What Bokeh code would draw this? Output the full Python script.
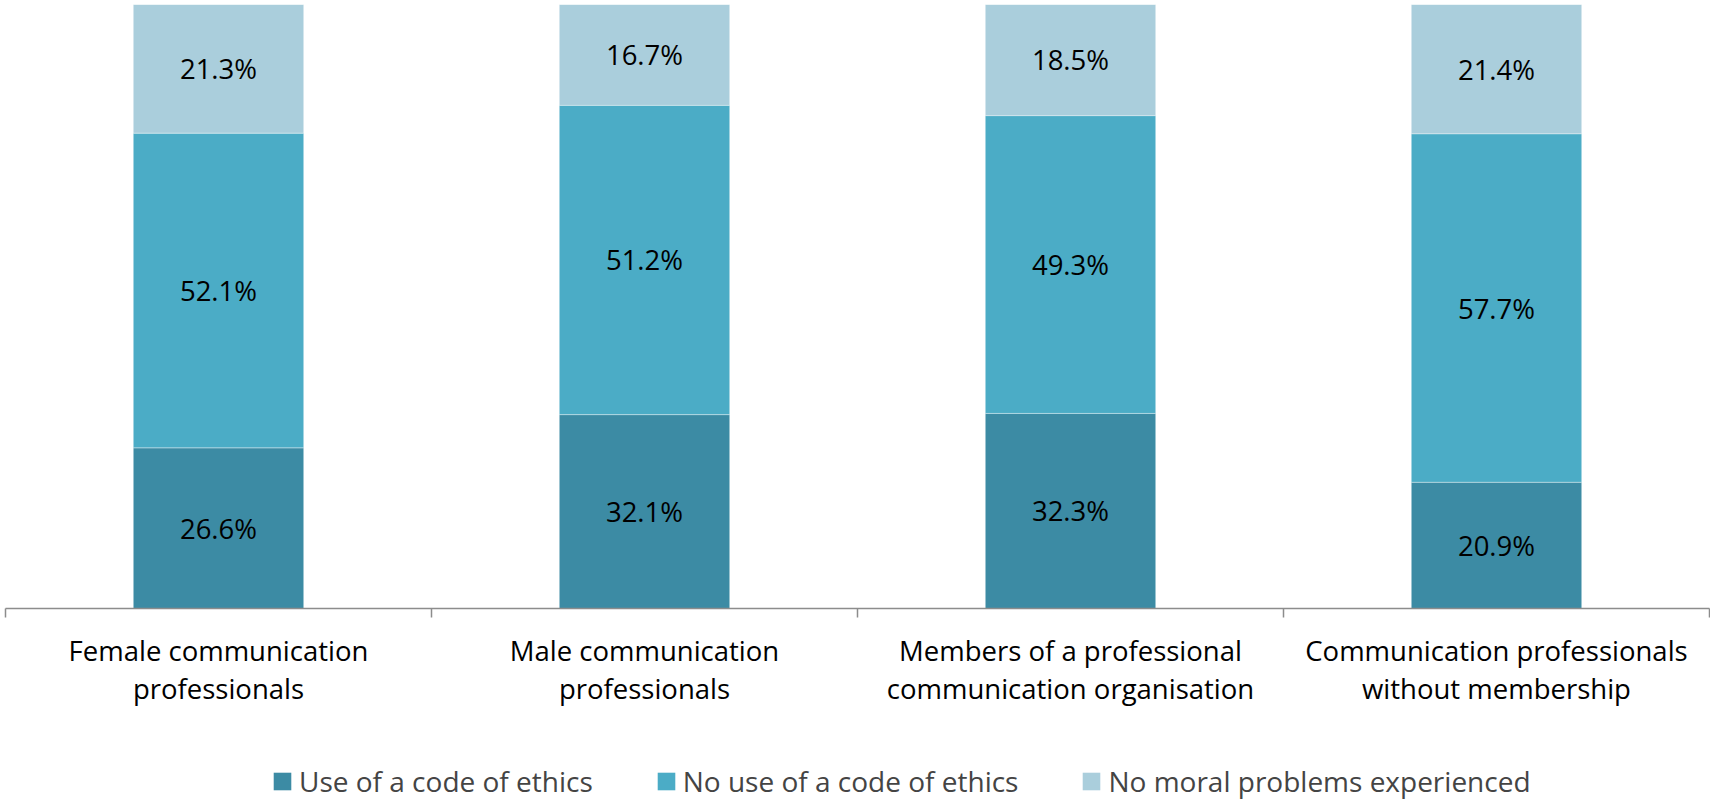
from bokeh.plotting import figure
from bokeh.layouts import column
from bokeh.models import (ColumnDataSource, Range1d, LinearAxis, FixedTicker, Legend,
                          LegendItem, LabelSet)
from bokeh.core.properties import value
from bokeh.embed import file_html
from bokeh.resources import INLINE

categories = ["Female communication\nprofessionals",
              "Male communication\nprofessionals",
              "Members of a professional\ncommunication organisation",
              "Communication professionals\nwithout membership"]
series = ["Use of a code of ethics", "No use of a code of ethics", "No moral problems experienced"]
use_code = [26.6, 32.1, 32.3, 20.9]
no_use_code = [52.1, 51.2, 49.3, 57.7]
no_problems = [21.3, 16.7, 18.5, 21.4]
colors = ["#3C8BA4", "#4BACC6", "#AACEDC"]

FONT = "Open Sans"
FS = "27.5px"

n = len(categories)
xs = [i + 0.5 for i in range(n)]
keys = ["s0", "s1", "s2"]
values = [use_code, no_use_code, no_problems]
data = {"x": xs}
for k, v in zip(keys, values):
    data[k] = v
src = ColumnDataSource(data)

p = figure(x_range=Range1d(0, n), y_range=Range1d(0, 100),
           width=1710, height=761,
           min_border_left=5, min_border_right=1, min_border_top=4, min_border_bottom=153,
           x_axis_location=None, y_axis_location=None,
           toolbar_location=None, output_backend="svg")
p.outline_line_color = None
p.xgrid.visible = False
p.ygrid.visible = False
p.background_fill_color = "white"
p.border_fill_color = "white"

rs = p.vbar_stack(keys, x="x", width=0.40, color=colors, line_color="white",
                  line_alpha=0.35, line_width=1, source=src)

# data labels
bottoms = [0.0] * n
for k, v in zip(keys, values):
    mids = [b + x / 2 for b, x in zip(bottoms, v)]
    bottoms = [b + x for b, x in zip(bottoms, v)]
    lsrc = ColumnDataSource(dict(x=xs, y=mids, t=[f"{x:.1f}%" for x in v]))
    p.add_layout(LabelSet(x="x", y="y", text="t", source=lsrc, text_align="center",
                          text_baseline="middle", text_font=value(FONT),
                          text_font_size=value(FS), text_color="#000000"))

# category axis: labels at bar centres, minor ticks at category boundaries
cat_axis = LinearAxis(ticker=FixedTicker(ticks=xs, minor_ticks=list(range(n + 1))),
                      major_label_overrides={x: c for x, c in zip(xs, categories)})
cat_axis.axis_line_color = "#8c8c8c"
cat_axis.axis_line_width = 1.5
cat_axis.major_tick_line_color = None
cat_axis.minor_tick_line_color = "#8c8c8c"
cat_axis.minor_tick_line_width = 1.5
cat_axis.minor_tick_in = 0
cat_axis.minor_tick_out = 9
cat_axis.major_tick_in = 0
cat_axis.major_tick_out = 9
cat_axis.major_label_text_font = FONT
cat_axis.major_label_text_font_size = FS
cat_axis.major_label_text_color = "#000000"
cat_axis.major_label_text_line_height = 1.05
cat_axis.major_label_standoff = 14
p.add_layout(cat_axis, "below")

# legend in its own strip below the chart (zero-height swatch renderers)
lg = figure(x_range=Range1d(0, 1), y_range=Range1d(0, 1), width=1710, height=40,
            min_border=0, x_axis_location=None, y_axis_location=None,
            toolbar_location=None, output_backend="svg")
lg.outline_line_color = None
lg.xgrid.visible = False
lg.ygrid.visible = False
swatch_src = ColumnDataSource(dict(x=[0.5], b=[0.0]))
dummies = [lg.vbar(x="x", top="b", bottom="b", width=0.1, fill_color=c, line_color=None,
                   source=swatch_src) for c in colors]
legend = Legend(items=[LegendItem(label=s, renderers=[r]) for s, r in zip(series, dummies)],
                orientation="horizontal", location=(266, 1))
legend.label_text_font = FONT
legend.label_text_font_size = "28px"
legend.glyph_width = 22
legend.glyph_height = 22
legend.label_standoff = 6
legend.spacing = 62
legend.border_line_color = None
legend.background_fill_alpha = 0
legend.padding = 0
legend.margin = 0
lg.add_layout(legend, "center")

layout = column(p, lg, spacing=0)
open("out.html", "w").write(file_html(layout, INLINE))
